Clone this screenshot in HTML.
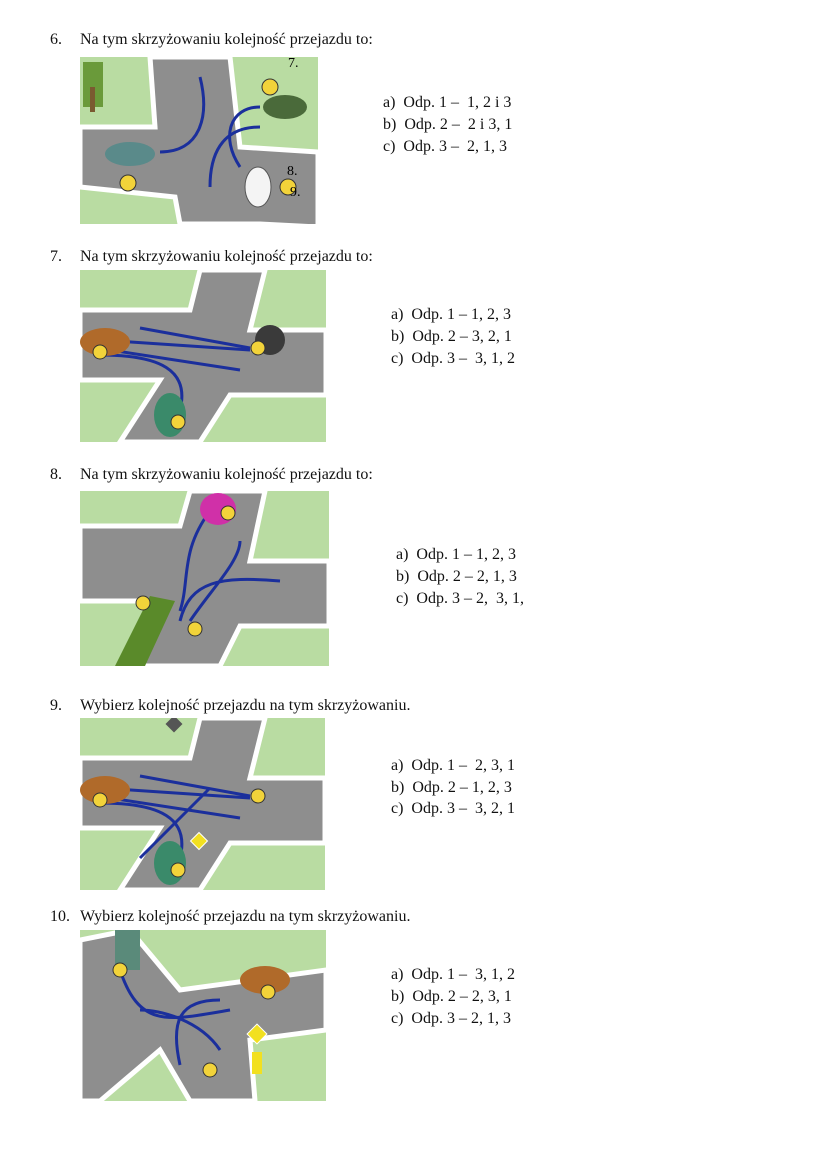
<!DOCTYPE html>
<html><head><meta charset="utf-8"><style>
body{margin:0;background:#fff;width:828px;height:1171px;position:relative;font-family:"Liberation Serif",serif;color:#111;overflow:hidden}
.t{position:absolute;font-size:16px;white-space:nowrap;line-height:18px}
svg{position:absolute}
</style></head><body>
<div class="t" style="left:50px;top:31px">6.</div><div class="t" style="left:80px;top:31px">Na tym skrzyżowaniu kolejność przejazdu to:</div>
<svg style="left:80px;top:57px" width="238" height="167" viewBox="0 0 238 167">
<rect width="238" height="167" fill="#b9dca2"/>
<path d="M70 0 L150 0 L160 90 L238 95 L238 170 L180 167 L100 167 L95 140 L0 130 L0 70 L75 70Z" fill="#8e8e8e" stroke="#fff" stroke-width="5"/>
<rect x="3" y="5" width="20" height="45" fill="#6a9a3a"/><rect x="10" y="30" width="5" height="25" fill="#7a5a30"/>
<path d="M80 95 C120 95 130 60 120 20" stroke="#1b2f9c" stroke-width="3" fill="none"/>
<path d="M180 70 C140 70 130 100 130 130" stroke="#1b2f9c" stroke-width="3" fill="none"/>
<path d="M160 110 C140 80 150 50 180 50" stroke="#1b2f9c" stroke-width="3" fill="none"/>
<ellipse cx="50" cy="97" rx="25" ry="12" fill="#5a8a8a"/><ellipse cx="205" cy="50" rx="22" ry="12" fill="#4a6a3a"/>
<ellipse cx="178" cy="130" rx="13" ry="20" fill="#f4f4f4" stroke="#555"/>
<circle cx="190" cy="30" r="8" fill="#f2d33a" stroke="#333"/><circle cx="48" cy="126" r="8" fill="#f2d33a" stroke="#333"/><circle cx="208" cy="130" r="8" fill="#f2d33a" stroke="#333"/>
<text x="208" y="10" font-size="14" font-family="Liberation Serif">7.</text>
<text x="207" y="118" font-size="14" font-family="Liberation Serif">8.</text>
<text x="210" y="139" font-size="14" font-family="Liberation Serif">9.</text>
</svg>
<div class="t" style="left:383px;top:94px">a)&nbsp; Odp. 1 –&nbsp; 1, 2 i 3</div>
<div class="t" style="left:383px;top:116px">b)&nbsp; Odp. 2 –&nbsp; 2 i 3, 1</div>
<div class="t" style="left:383px;top:138px">c)&nbsp; Odp. 3 –&nbsp; 2, 1, 3</div>

<div class="t" style="left:50px;top:248px">7.</div><div class="t" style="left:80px;top:248px">Na tym skrzyżowaniu kolejność przejazdu to:</div>
<svg style="left:80px;top:270px" width="246" height="172" viewBox="0 0 246 172">
<rect width="246" height="172" fill="#b9dca2"/>
<path d="M120 0 L185 0 L170 60 L246 60 L246 125 L150 125 L120 172 L40 172 L80 110 L0 110 L0 40 L110 40Z" fill="#8e8e8e" stroke="#fff" stroke-width="5"/>
<path d="M170 78 L60 58" stroke="#1b2f9c" stroke-width="3"/><path d="M170 80 L20 70 M30 80 L160 100" stroke="#1b2f9c" stroke-width="3" fill="none"/>
<path d="M100 140 C110 100 80 85 20 85" stroke="#1b2f9c" stroke-width="3" fill="none"/>
<ellipse cx="25" cy="72" rx="25" ry="14" fill="#b06a2a"/><ellipse cx="90" cy="145" rx="16" ry="22" fill="#3a8a6a"/>
<ellipse cx="190" cy="70" rx="15" ry="15" fill="#3a3a3a"/>
<circle cx="178" cy="78" r="7" fill="#f2d33a" stroke="#333"/><circle cx="20" cy="82" r="7" fill="#f2d33a" stroke="#333"/><circle cx="98" cy="152" r="7" fill="#f2d33a" stroke="#333"/>
</svg>
<div class="t" style="left:391px;top:306px">a)&nbsp; Odp. 1 – 1, 2, 3</div>
<div class="t" style="left:391px;top:328px">b)&nbsp; Odp. 2 – 3, 2, 1</div>
<div class="t" style="left:391px;top:350px">c)&nbsp; Odp. 3 –&nbsp; 3, 1, 2</div>

<div class="t" style="left:50px;top:466px">8.</div><div class="t" style="left:80px;top:466px">Na tym skrzyżowaniu kolejność przejazdu to:</div>
<svg style="left:80px;top:491px" width="249" height="175" viewBox="0 0 249 175">
<rect width="249" height="175" fill="#b9dca2"/>
<path d="M110 0 L185 0 L170 70 L249 70 L249 135 L160 135 L140 175 L40 175 L70 110 L0 110 L0 35 L100 35Z" fill="#8e8e8e" stroke="#fff" stroke-width="5"/>
<path d="M130 20 C100 60 110 90 100 120 M100 130 C110 90 140 85 200 90 M110 130 C130 100 160 70 160 50" stroke="#1b2f9c" stroke-width="3" fill="none"/>
<ellipse cx="138" cy="18" rx="18" ry="16" fill="#d030a8"/>
<path d="M70 105 L95 110 L65 175 L35 175Z" fill="#5a8a2a"/>
<circle cx="148" cy="22" r="7" fill="#f2d33a" stroke="#333"/><circle cx="63" cy="112" r="7" fill="#f2d33a" stroke="#333"/><circle cx="115" cy="138" r="7" fill="#f2d33a" stroke="#333"/>
</svg>
<div class="t" style="left:396px;top:546px">a)&nbsp; Odp. 1 – 1, 2, 3</div>
<div class="t" style="left:396px;top:568px">b)&nbsp; Odp. 2 – 2, 1, 3</div>
<div class="t" style="left:396px;top:590px">c)&nbsp; Odp. 3 – 2,&nbsp; 3, 1,</div>

<div class="t" style="left:50px;top:697px">9.</div><div class="t" style="left:80px;top:697px">Wybierz kolejność przejazdu na tym skrzyżowaniu.</div>
<svg style="left:80px;top:718px" width="245" height="172" viewBox="0 0 245 172">
<rect width="245" height="172" fill="#b9dca2"/>
<path d="M120 0 L185 0 L170 60 L245 60 L245 125 L150 125 L120 172 L40 172 L80 110 L0 110 L0 40 L110 40Z" fill="#8e8e8e" stroke="#fff" stroke-width="5"/>
<path d="M170 78 L60 58 M170 80 L20 70 M30 80 L160 100 M100 140 C110 100 80 85 20 85 M130 70 L60 140" stroke="#1b2f9c" stroke-width="3" fill="none"/>
<ellipse cx="25" cy="72" rx="25" ry="14" fill="#b06a2a"/><ellipse cx="90" cy="145" rx="16" ry="22" fill="#3a8a6a"/>
<circle cx="178" cy="78" r="7" fill="#f2d33a" stroke="#333"/><circle cx="20" cy="82" r="7" fill="#f2d33a" stroke="#333"/><circle cx="98" cy="152" r="7" fill="#f2d33a" stroke="#333"/>
<rect x="88" y="0" width="12" height="12" transform="rotate(45 94 6)" fill="#555"/>
<rect x="113" y="117" width="12" height="12" transform="rotate(45 119 123)" fill="#f2e020" stroke="#fff"/>
</svg>
<div class="t" style="left:391px;top:757px">a)&nbsp; Odp. 1 –&nbsp; 2, 3, 1</div>
<div class="t" style="left:391px;top:779px">b)&nbsp; Odp. 2 – 1, 2, 3</div>
<div class="t" style="left:391px;top:800px">c)&nbsp; Odp. 3 –&nbsp; 3, 2, 1</div>

<div class="t" style="left:50px;top:908px">10.</div><div class="t" style="left:80px;top:908px">Wybierz kolejność przejazdu na tym skrzyżowaniu.</div>
<svg style="left:80px;top:930px" width="246" height="171" viewBox="0 0 246 171">
<rect width="246" height="171" fill="#b9dca2"/>
<path d="M0 10 L50 0 L100 60 L246 40 L246 100 L170 110 L175 171 L110 171 L80 120 L20 171 L0 171Z" fill="#8e8e8e" stroke="#fff" stroke-width="5"/>
<path d="M40 40 C60 100 90 90 150 80 M140 70 C100 70 90 90 100 135 M140 120 C120 90 80 80 60 80" stroke="#1b2f9c" stroke-width="3" fill="none"/>
<rect x="35" y="0" width="25" height="40" fill="#5a8a7a"/>
<ellipse cx="185" cy="50" rx="25" ry="14" fill="#b06a2a"/>
<circle cx="40" cy="40" r="7" fill="#f2d33a" stroke="#333"/><circle cx="188" cy="62" r="7" fill="#f2d33a" stroke="#333"/><circle cx="130" cy="140" r="7" fill="#f2d33a" stroke="#333"/>
<rect x="170" y="97" width="14" height="14" transform="rotate(45 177 104)" fill="#f2e020" stroke="#fff"/>
<rect x="172" y="122" width="10" height="22" fill="#f2e020"/>
</svg>
<div class="t" style="left:391px;top:966px">a)&nbsp; Odp. 1 –&nbsp; 3, 1, 2</div>
<div class="t" style="left:391px;top:988px">b)&nbsp; Odp. 2 – 2, 3, 1</div>
<div class="t" style="left:391px;top:1010px">c)&nbsp; Odp. 3 – 2, 1, 3</div>
</body></html>
